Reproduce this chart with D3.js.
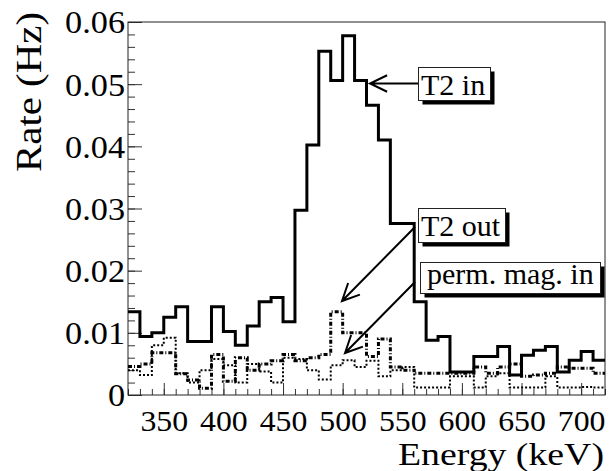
<!DOCTYPE html>
<html>
<head>
<meta charset="utf-8">
<script src="https://cdnjs.cloudflare.com/ajax/libs/d3/7.8.5/d3.min.js"></script>
<style>
body { margin: 0; background: #fff; }
text { font-family: "Liberation Serif", "Times New Roman", Tinos, serif; fill: #000; }
</style>
</head>
<body>
<script>
// bins (low edge, keV), 10 keV wide
var binLow = [320, 330, 340, 350, 360, 370, 380, 390, 400, 410,
              420, 430, 440, 450, 460, 470, 480, 490, 500, 510,
              520, 530, 540, 550, 560, 570, 580, 590, 600, 610,
              620, 630, 640, 650, 660, 670, 680, 690, 700, 710];
var binWidth = 10;

var t2In = [0.0134, 0.0094, 0.0100, 0.0125, 0.0142, 0.0086, 0.0086, 0.0142, 0.0102, 0.0080,
            0.0111, 0.0150, 0.0157, 0.0118, 0.0297, 0.0402, 0.0553, 0.0506, 0.0578, 0.0506,
            0.0466, 0.0410, 0.0276, 0.0276, 0.0150, 0.0088, 0.0094, 0.0037, 0.0037, 0.0062,
            0.0062, 0.0078, 0.0032, 0.0064, 0.0072, 0.0078, 0.0037, 0.0056, 0.0070, 0.0056];

var t2Out = [0.0046, 0.0050, 0.0068, 0.0068, 0.0034, 0.0024, 0.0011, 0.0065, 0.0022, 0.0060,
             0.0040, 0.0050, 0.0055, 0.0065, 0.0055, 0.0060, 0.0065, 0.0134, 0.0100, 0.0100,
             0.0062, 0.0090, 0.0045, 0.0040, 0.0035, 0.0035, 0.0035, 0.0035, 0.0035, 0.0045,
             0.0035, 0.0045, 0.0050, 0.0030, 0.0032, 0.0035, 0.0045, 0.0043, 0.0043, 0.0035];

var permMagIn = [0.0040, 0.0032, 0.0080, 0.0092, 0.0035, 0.0020, 0.0040, 0.0058, 0.0048, 0.0020,
                 0.0050, 0.0038, 0.0020, 0.0060, 0.0058, 0.0040, 0.0025, 0.0048, 0.0056, 0.0045,
                 0.0055, 0.0030, 0.0040, 0.0045, 0.0012, 0.0012, 0.0012, 0.0030, 0.0030, 0.0012,
                 0.0030, 0.0035, 0.0012, 0.0012, 0.0012, 0.0030, 0.0012, 0.0012, 0.0013, 0.0012];

var xTicks = [350, 400, 450, 500, 550, 600, 650, 700];
var yTicks = [0, 0.01, 0.02, 0.03, 0.04, 0.05, 0.06];
var yTickLabels = ["0", "0.01", "0.02", "0.03", "0.04", "0.05", "0.06"];
var yMinorStep = 0.002;

var serif = '"Liberation Serif", "Times New Roman", Tinos, serif';

// set the dimensions and margins of the graph
var margin = {top: 22, right: 11, bottom: 76, left: 128},
    width = 616 - margin.left - margin.right,
    height = 471 - margin.top - margin.bottom;

var x = d3.scaleLinear().domain([320, 720]).range([0, width]);
var y = d3.scaleLinear().domain([0, 0.06]).range([height, 0]);

var svg0 = d3.select("body").append("svg")
    .attr("width", 616)
    .attr("height", 471);
svg0.append("rect").attr("width", 616).attr("height", 471).attr("fill", "#fff");

var svg = svg0.append("g")
    .attr("transform", "translate(" + margin.left + "," + margin.top + ")");

// slightly widen text (reference glyphs are wider than Times)
function widen(sel, f) {
  sel.each(function() {
    var w = this.getComputedTextLength();
    d3.select(this).attr("textLength", w * f).attr("lengthAdjust", "spacingAndGlyphs");
  });
}

// minor ticks
var xMinor = binLow.concat([binLow[binLow.length - 1] + binWidth]);
var yMinor = d3.range(0, 0.0601, yMinorStep);

svg.append("g")
    .attr("transform", "translate(0," + height + ")")
    .call(d3.axisBottom(x).tickValues(xMinor).tickSizeInner(-6).tickSizeOuter(0).tickFormat(""))
    .call(function(g) { g.select(".domain").remove(); g.selectAll("line").attr("stroke", "#333"); });

svg.append("g")
    .call(d3.axisLeft(y).tickValues(yMinor).tickSizeInner(-7).tickSizeOuter(0).tickFormat(""))
    .call(function(g) { g.select(".domain").remove(); g.selectAll("line").attr("stroke", "#333"); });

// major ticks + labels
var xAxis = svg.append("g")
    .attr("transform", "translate(0," + height + ")")
    .call(d3.axisBottom(x).tickValues(xTicks).tickSizeInner(-12).tickSizeOuter(0).tickFormat(d3.format("d")));
xAxis.attr("font-family", null).attr("font-size", null);
xAxis.select(".domain").remove();
xAxis.selectAll("line").attr("stroke", "#333");
xAxis.selectAll("text")
    .attr("y", 35.5).attr("dy", 0)
    .style("font-size", "30px")
    .style("font-family", serif)
    .call(widen, 1.06);

var yAxis = svg.append("g")
    .call(d3.axisLeft(y).tickValues(yTicks).tickSizeInner(-14).tickSizeOuter(0)
      .tickPadding(3)
      .tickFormat(function(d, i) { return yTickLabels[i]; }));
yAxis.attr("font-family", null).attr("font-size", null);
yAxis.select(".domain").remove();
yAxis.selectAll("line").attr("stroke", "#333");
yAxis.selectAll("text")
    .attr("dy", "0.34em")
    .style("font-size", "32px")
    .style("font-family", serif)
    .call(widen, 1.07);

// frame
svg.append("rect")
    .attr("x", 0).attr("y", 0)
    .attr("width", width).attr("height", height)
    .attr("fill", "none")
    .attr("stroke", "#222")
    .attr("stroke-width", 1);

// histograms
function histPoints(vals) {
  var pts = binLow.map(function(e, i) { return [x(e), y(vals[i])]; });
  pts.push([x(binLow[binLow.length - 1] + binWidth), y(vals[vals.length - 1])]);
  return pts;
}
var step = d3.line().curve(d3.curveStepAfter);

svg.append("path")
    .attr("d", step(histPoints(permMagIn)))
    .attr("fill", "none")
    .attr("stroke", "#000")
    .attr("stroke-width", 2)
    .attr("stroke-dasharray", "2,2");

svg.append("path")
    .attr("d", step(histPoints(t2Out)))
    .attr("fill", "none")
    .attr("stroke", "#000")
    .attr("stroke-width", 3)
    .attr("stroke-dasharray", "4,2,1,2");

svg.append("path")
    .attr("d", step(histPoints(t2In)))
    .attr("fill", "none")
    .attr("stroke", "#000")
    .attr("stroke-width", 3);

// axis titles
svg0.append("text")
    .attr("x", 604).attr("y", 465)
    .attr("text-anchor", "end")
    .attr("textLength", 206)
    .attr("lengthAdjust", "spacingAndGlyphs")
    .style("font-size", "31px")
    .style("font-family", serif)
    .text("Energy (keV)");

svg0.append("text")
    .attr("transform", "translate(41,12) rotate(-90)")
    .attr("text-anchor", "end")
    .attr("textLength", 160)
    .attr("lengthAdjust", "spacingAndGlyphs")
    .style("font-size", "35px")
    .style("font-family", serif)
    .text("Rate (Hz)");

// annotation boxes with shadow and arrows
function arrow(x1, y1, x2, y2) {
  var a = Math.atan2(y2 - y1, x2 - x1), len = 19, spread = 0.45;
  svg0.append("path")
    .attr("d", "M" + x1 + "," + y1 + "L" + x2 + "," + y2 +
      "M" + (x2 - len * Math.cos(a - spread)) + "," + (y2 - len * Math.sin(a - spread)) +
      "L" + x2 + "," + y2 +
      "L" + (x2 - len * Math.cos(a + spread)) + "," + (y2 - len * Math.sin(a + spread)))
    .attr("fill", "none")
    .attr("stroke", "#000")
    .attr("stroke-width", 2);
}

function label(bx, by, bw, bh, tx, ty, txt) {
  svg0.append("rect")
    .attr("x", bx + 4).attr("y", by + 4).attr("width", bw).attr("height", bh)
    .attr("fill", "#000");
  svg0.append("rect")
    .attr("x", bx).attr("y", by).attr("width", bw).attr("height", bh)
    .attr("fill", "#fff").attr("stroke", "#222").attr("stroke-width", 1);
  svg0.append("text")
    .attr("x", tx).attr("y", ty)
    .style("font-size", "30px")
    .style("font-family", serif)
    .text(txt);
}

arrow(418, 83.5, 370, 83.5);
arrow(415, 227, 342, 301);
arrow(415, 282, 345, 353);

label(418.5, 67.5, 72, 33, 421, 95, "T2 in");
label(418.5, 208.5, 87, 34, 421, 236, "T2 out");
label(420.5, 262.5, 180, 31, 427, 284, "perm. mag. in");
</script>
</body>
</html>
